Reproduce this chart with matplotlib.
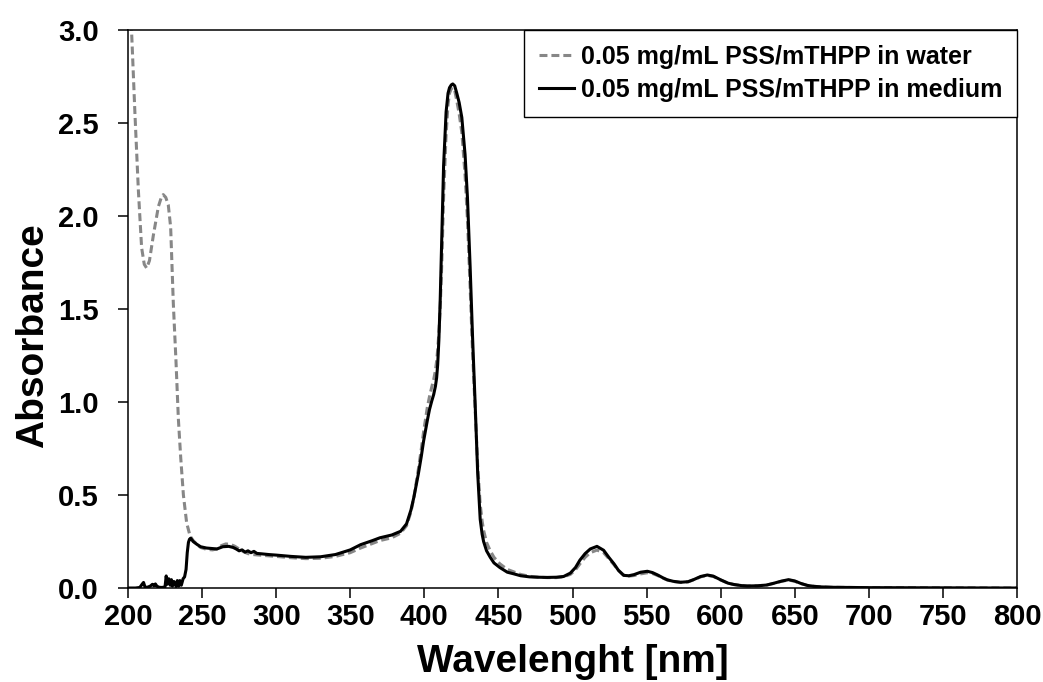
import matplotlib
matplotlib.use("Agg")
import matplotlib.pyplot as plt

# UV-Vis absorbance spectra of PSS/mTHPP (0.05 mg/mL)
wl_medium = [200, 205, 208, 209.5, 210.5, 211.5, 213, 215, 216.5, 217.5, 218.5, 219.5,
             221, 223, 225, 225.8, 226.5, 227.5, 228.5, 229.3, 230, 231, 232.5, 233.3,
             234.2, 235, 236, 237.2, 238.2, 239.2, 240, 240.8, 241.5, 242.3, 244, 246.5,
             249, 253, 257, 260, 264, 268, 271, 273, 275, 277, 279, 281, 283, 285, 287,
             290, 295, 300, 310, 320, 330, 340, 350, 357, 365, 370, 378, 384, 388, 391,
             393, 396, 398, 399.5, 402, 403.5, 405, 406.3, 407.5, 408.3, 409, 409.8, 410.7,
             411.8, 413, 414.7, 416, 417, 418.2, 419.2, 420.5, 421.9, 423.5, 425.3, 427.5,
             429.1, 430.9, 432.5, 434.3, 436, 437.7, 439, 440, 442, 444.5, 447, 451, 456,
             460, 465, 471, 477, 483, 489, 494, 498.5, 502, 505, 508.5, 512, 516.5, 521,
             524.5, 528, 531, 534.5, 538, 541.5, 546, 550.5, 554, 557.5, 561, 564, 568, 573,
             578, 582, 586.5, 591, 595, 600, 605, 609, 614, 618, 625, 631, 636, 641, 645.8,
             650, 654, 658.5, 663, 668, 675, 685, 700, 750, 800]
abs_medium = [0.0, 0.0, 0.003, 0.02, 0.03, 0.005, 0.004, 0.01, 0.02, 0.012, 0.022, 0.01,
              0.004, 0.003, 0.006, 0.065, 0.02, 0.05, 0.015, 0.045, 0.01, 0.035, 0.008, 0.04,
              0.01, 0.04, 0.015, 0.05, 0.06, 0.1, 0.19, 0.245, 0.262, 0.268, 0.25, 0.235,
              0.222, 0.215, 0.212, 0.21, 0.222, 0.224, 0.218, 0.21, 0.2, 0.205, 0.193, 0.2,
              0.19, 0.197, 0.186, 0.184, 0.18, 0.177, 0.17, 0.165, 0.168, 0.18, 0.205, 0.233,
              0.255, 0.27, 0.285, 0.305, 0.345, 0.42, 0.49, 0.615, 0.71, 0.79, 0.9, 0.96,
              1.005, 1.04, 1.085, 1.13, 1.2, 1.33, 1.545, 1.9, 2.27, 2.56, 2.66, 2.69, 2.705,
              2.71, 2.7, 2.66, 2.61, 2.53, 2.33, 2.10, 1.73, 1.36, 0.99, 0.62, 0.37, 0.29,
              0.25, 0.2, 0.165, 0.135, 0.11, 0.085, 0.077, 0.066, 0.06, 0.058, 0.057, 0.058,
              0.062, 0.08, 0.11, 0.15, 0.185, 0.21, 0.224, 0.203, 0.165, 0.13, 0.095, 0.068,
              0.066, 0.072, 0.085, 0.09, 0.083, 0.07, 0.055, 0.044, 0.036, 0.031, 0.034,
              0.046, 0.062, 0.07, 0.064, 0.044, 0.026, 0.019, 0.013, 0.011, 0.012, 0.016,
              0.026, 0.037, 0.045, 0.038, 0.025, 0.014, 0.009, 0.006, 0.004, 0.003, 0.002,
              0.001, 0.0]

wl_water = [200, 201, 202.5, 204.7, 207, 209.2, 211, 212.6, 214.5, 217.1, 220.5, 222.5,
            223.8, 225.5, 227.2, 228.8, 230.6, 232.4, 234, 235.6, 237.4, 239.6, 241.9, 244,
            246.5, 249, 253, 257, 260, 263, 266, 269, 272, 275, 278, 281, 284, 287, 290,
            295, 300, 310, 320, 330, 340, 350, 357, 365, 370, 378, 384, 388, 391, 393, 396,
            398, 399.5, 402, 403.5, 405, 406.3, 407.5, 408.3, 409, 409.8, 410.7, 411.8, 413,
            414.7, 416, 417, 418.2, 419.2, 420.5, 421.9, 423.5, 425.3, 427.5, 429.1, 430.9,
            432.5, 434.3, 436, 437.7, 439, 440, 442, 444.5, 447, 451, 456, 460, 465, 471,
            477, 483, 489, 494, 498.5, 502, 505, 508.5, 512, 516.5, 521, 524.5, 528, 531,
            534.5, 538, 541.5, 546, 550.5, 554, 557.5, 561, 564, 568, 573, 578, 582, 586.5,
            591, 595, 600, 605, 609, 614, 618, 625, 631, 636, 641, 645.8, 650, 654, 658.5,
            663, 668, 675, 685, 700, 750, 800]
abs_water = [3.25, 3.1, 2.98, 2.55, 2.14, 1.83, 1.74, 1.72, 1.76, 1.895, 2.05, 2.1, 2.115,
             2.1, 2.06, 1.94, 1.53, 1.22, 0.91, 0.70, 0.5, 0.35, 0.28, 0.255, 0.235, 0.218,
             0.208, 0.205, 0.21, 0.228, 0.237, 0.235, 0.225, 0.21, 0.195, 0.185, 0.18, 0.178,
             0.176, 0.173, 0.17, 0.163, 0.158, 0.16, 0.17, 0.19, 0.215, 0.24, 0.255, 0.27,
             0.295, 0.335, 0.41, 0.49, 0.64, 0.75, 0.84, 0.97, 1.03, 1.08, 1.12, 1.17, 1.22,
             1.28, 1.37, 1.5, 1.75, 2.1, 2.44, 2.6, 2.66, 2.685, 2.69, 2.675, 2.62, 2.55,
             2.45, 2.22, 1.98, 1.62, 1.28, 0.96, 0.66, 0.45, 0.36, 0.31, 0.245, 0.2, 0.165,
             0.13, 0.1, 0.088, 0.073, 0.063, 0.058, 0.056, 0.056, 0.06, 0.073, 0.098, 0.13,
             0.165, 0.19, 0.204, 0.19, 0.158, 0.125, 0.095, 0.07, 0.064, 0.067, 0.076, 0.082,
             0.078, 0.067, 0.053, 0.043, 0.035, 0.03, 0.033, 0.045, 0.06, 0.068, 0.062, 0.043,
             0.026, 0.018, 0.013, 0.011, 0.012, 0.016, 0.025, 0.036, 0.043, 0.036, 0.024,
             0.014, 0.009, 0.006, 0.004, 0.003, 0.002, 0.001, 0.0]

label_water = "0.05 mg/mL PSS/mTHPP in water"
label_medium = "0.05 mg/mL PSS/mTHPP in medium"
x_ticks = list(range(200, 801, 50))
y_ticks = [0.0, 0.5, 1.0, 1.5, 2.0, 2.5, 3.0]

plt.rcParams["font.family"] = ["Liberation Sans", "DejaVu Sans"]
plt.rcParams["font.weight"] = "bold"

fig = plt.figure(figsize=(10.43, 6.82), dpi=100)
ax = fig.add_axes([0.1227, 0.1378, 0.8524, 0.8182])

ax.plot(wl_water, abs_water, color="#878787", lw=2.2, dashes=(2.6, 1.3),
        label=label_water, zorder=2)
ax.plot(wl_medium, abs_medium, color="black", lw=2.2, label=label_medium,
        zorder=3, solid_joinstyle="round")

ax.set_xlim(200, 800)
ax.set_ylim(0, 3.0)
ax.set_xticks(x_ticks)
ax.set_yticks(y_ticks)
ax.set_yticklabels([f"{v:.1f}" for v in y_ticks])

for s in ax.spines.values():
    s.set_linewidth(1.1)
ax.tick_params(axis="both", direction="out", length=7, width=1.1, labelsize=21)
ax.tick_params(axis="y", pad=14)
ax.tick_params(axis="x", pad=4)

ax.set_xlabel("Wavelenght [nm]", fontsize=28, fontweight="bold")
ax.set_ylabel("Absorbance", fontsize=28, fontweight="bold")
ax.xaxis.set_label_coords(0.5, -0.1)
ax.yaxis.set_label_coords(-0.087, 0.452)

leg = ax.legend(loc="upper right", borderaxespad=0, fontsize=18, frameon=True,
                fancybox=False, framealpha=1, edgecolor="black", handlelength=1.4,
                handletextpad=0.28, labelspacing=0.35, borderpad=0.6)
leg.get_frame().set_linewidth(1.0)
for t in leg.get_texts():
    t.set_fontweight("bold")

fig.savefig("out.png", dpi=100)
